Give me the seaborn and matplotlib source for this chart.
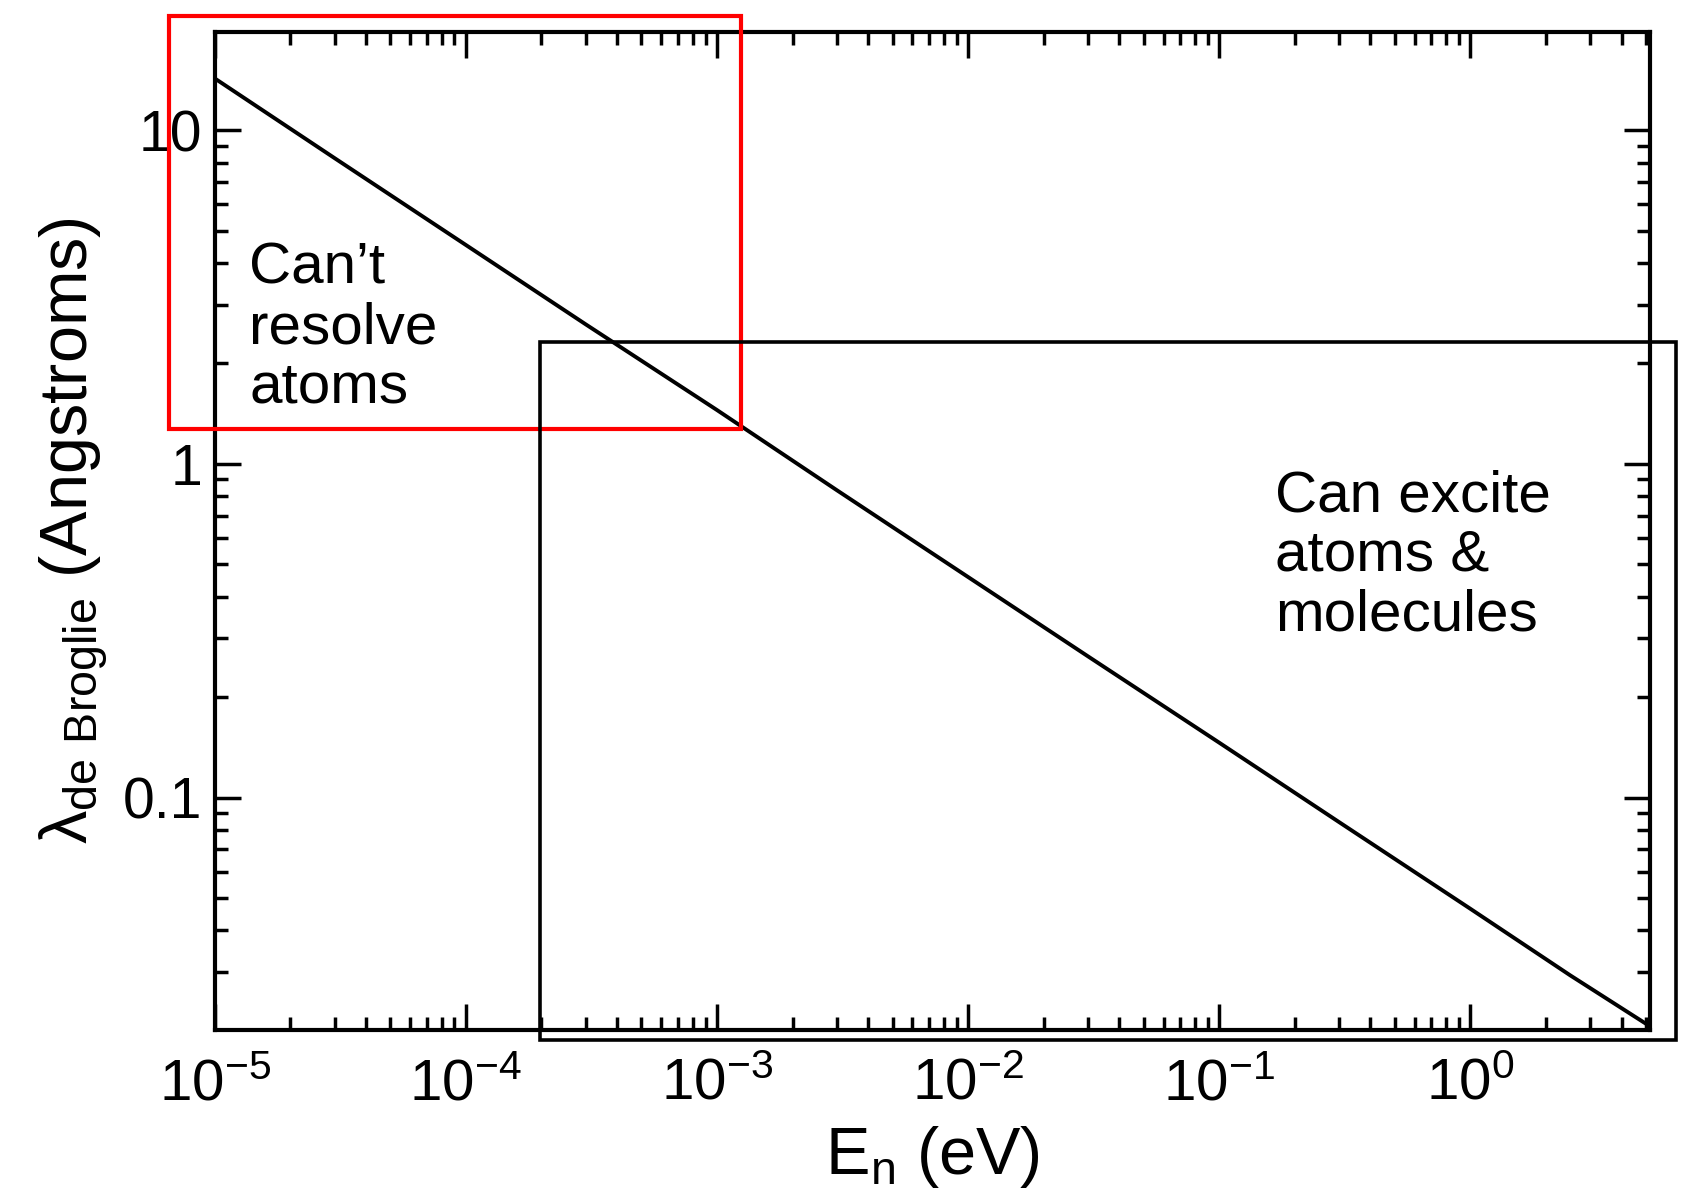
import matplotlib
matplotlib.use("Agg")
import matplotlib.pyplot as plt
import matplotlib.ticker as mticker
from matplotlib.patches import Rectangle
import seaborn as sns
import pandas as pd

# ---- data ----
energy_eV = [1e-5, 3e-5, 1e-4, 3e-4, 1e-3, 3e-3, 1e-2, 3e-2, 1e-1, 3e-1, 1.0, 2.5, 5.2]
wavelength_A = [14.3, 8.25, 4.53, 2.62, 1.45, 0.834, 0.458, 0.265, 0.146, 0.0844, 0.0464, 0.0293, 0.0206]

red_box_x = [6.6e-6, 1.25e-3]
red_box_y = [1.27, 22.0]
black_box_x = [1.97e-4, 6.6]
black_box_y = [0.0187, 2.32]

label_left = "Can\u2019t\nresolve\natoms"
label_right = "Can excite\natoms &\nmolecules"
xlabel = r"$E_n$ (eV)"
ylabel = r"$\lambda_{de\ Broglie}$ (Angstroms)"

xlim = (1e-5, 5.2)
ylim = (0.0201, 19.7)

df = pd.DataFrame({"E": energy_eV, "lam": wavelength_A})

sns.set_theme(style="ticks")
plt.rcParams["font.family"] = ["Liberation Sans", "DejaVu Sans"]
plt.rcParams["mathtext.default"] = "regular"
plt.rcParams["axes.unicode_minus"] = False
plt.rcParams["text.color"] = "black"
plt.rcParams["axes.labelcolor"] = "black"
plt.rcParams["xtick.color"] = "black"
plt.rcParams["ytick.color"] = "black"

fig = plt.figure(figsize=(16.83, 12.03), dpi=100)
ax = fig.add_axes([0.1276, 0.1438, 0.8529, 0.8296])

sns.lineplot(data=df, x="E", y="lam", ax=ax, color="black", linewidth=2.8)
ax.set_xscale("log")
ax.set_yscale("log")
ax.set_xlim(*xlim)
ax.set_ylim(*ylim)

for s in ax.spines.values():
    s.set_linewidth(3.0)
    s.set_color("black")

ax.xaxis.set_major_locator(mticker.LogLocator(base=10, numticks=20))
ax.xaxis.set_minor_locator(mticker.LogLocator(base=10, subs=range(2, 10), numticks=100))
ax.yaxis.set_minor_locator(mticker.LogLocator(base=10, subs=range(2, 10), numticks=100))
ax.xaxis.set_minor_formatter(mticker.NullFormatter())
ax.yaxis.set_minor_formatter(mticker.NullFormatter())
ax.yaxis.set_major_formatter(mticker.FuncFormatter(lambda v, p: f"{v:g}"))

ax.tick_params(which="both", direction="in", top=True, right=True, width=2.5, color="black")
ax.tick_params(which="major", length=19)
ax.tick_params(which="minor", length=9.5)
ax.tick_params(axis="y", which="major", labelsize=41, pad=9)
ax.tick_params(axis="x", which="major", labelsize=42, pad=20)

ax.set_xlabel(xlabel, fontsize=48)
ax.set_ylabel(ylabel, fontsize=48)
ax.xaxis.set_label_coords(0.5, -0.094)
ax.yaxis.set_label_coords(-0.073, 0.5)

ax.add_patch(Rectangle((red_box_x[0], red_box_y[0]), red_box_x[1] - red_box_x[0],
                       red_box_y[1] - red_box_y[0], fill=False, edgecolor="#ff0000",
                       linewidth=3.0, clip_on=False, zorder=5))
ax.add_patch(Rectangle((black_box_x[0], black_box_y[0]), black_box_x[1] - black_box_x[0],
                       black_box_y[1] - black_box_y[0], fill=False, edgecolor="black",
                       linewidth=2.6, clip_on=False, zorder=5))

ax.text(1.37e-5, 2.55, label_left, fontsize=42, ha="left", va="center", linespacing=1.13)
ax.text(0.167, 0.531, label_right, fontsize=42, ha="left", va="center", linespacing=1.13)

fig.savefig("out.png", dpi=100)
